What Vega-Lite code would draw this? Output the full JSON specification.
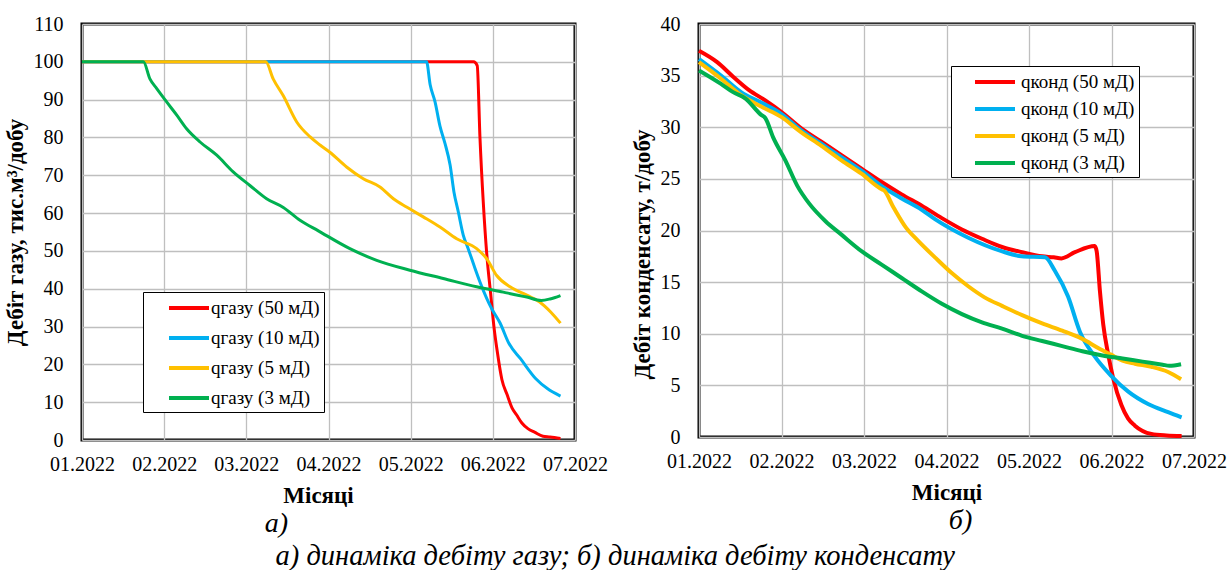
{
  "$schema": "https://vega.github.io/schema/vega-lite/v6.json",
  "padding": {"left": 2, "top": 12, "right": 0, "bottom": 0},
  "background": "white",
  "bounds": "flush",
  "spacing": 124,
  "title": {"text": "а) динаміка дебіту газу; б) динаміка дебіту конденсату", "orient": "bottom", "anchor": "middle", "font": "Times New Roman", "fontSize": 28.5, "fontStyle": "italic", "fontWeight": "normal", "color": "black", "offset": 2},
  "datasets": {
    "gas": [
      {"day": 0, "value": 100, "series": "qгазу (50 мД)"},
      {"day": 143, "value": 100, "series": "qгазу (50 мД)"},
      {"day": 144.3, "value": 99, "series": "qгазу (50 мД)"},
      {"day": 145.3, "value": 80, "series": "qгазу (50 мД)"},
      {"day": 146.5, "value": 63, "series": "qгазу (50 мД)"},
      {"day": 147.8, "value": 49, "series": "qгазу (50 мД)"},
      {"day": 149.3, "value": 38, "series": "qгазу (50 мД)"},
      {"day": 150.4, "value": 30, "series": "qгазу (50 мД)"},
      {"day": 151.7, "value": 23, "series": "qгазу (50 мД)"},
      {"day": 153.3, "value": 16, "series": "qгазу (50 мД)"},
      {"day": 155.2, "value": 12, "series": "qгазу (50 мД)"},
      {"day": 157, "value": 8.5, "series": "qгазу (50 мД)"},
      {"day": 158.7, "value": 6.6, "series": "qгазу (50 мД)"},
      {"day": 160.6, "value": 4.5, "series": "qгазу (50 мД)"},
      {"day": 162.8, "value": 3, "series": "qгазу (50 мД)"},
      {"day": 165.4, "value": 2, "series": "qгазу (50 мД)"},
      {"day": 168.3, "value": 1, "series": "qгазу (50 мД)"},
      {"day": 170.9, "value": 0.8, "series": "qгазу (50 мД)"},
      {"day": 174.7, "value": 0.4, "series": "qгазу (50 мД)"},
      {"day": 0, "value": 100, "series": "qгазу (10 мД)"},
      {"day": 125.8, "value": 100, "series": "qгазу (10 мД)"},
      {"day": 127.1, "value": 94, "series": "qгазу (10 мД)"},
      {"day": 128.9, "value": 89.4, "series": "qгазу (10 мД)"},
      {"day": 130.7, "value": 83, "series": "qгазу (10 мД)"},
      {"day": 132.5, "value": 78.5, "series": "qгазу (10 мД)"},
      {"day": 134.4, "value": 72.7, "series": "qгазу (10 мД)"},
      {"day": 135.8, "value": 65.6, "series": "qгазу (10 мД)"},
      {"day": 137.4, "value": 60.3, "series": "qгазу (10 мД)"},
      {"day": 139.2, "value": 54.2, "series": "qгазу (10 мД)"},
      {"day": 141, "value": 50.6, "series": "qгазу (10 мД)"},
      {"day": 143.1, "value": 46.2, "series": "qгазу (10 мД)"},
      {"day": 145.3, "value": 41.8, "series": "qгазу (10 мД)"},
      {"day": 147.8, "value": 37.4, "series": "qгазу (10 мД)"},
      {"day": 149.6, "value": 34.7, "series": "qгазу (10 мД)"},
      {"day": 152.6, "value": 31, "series": "qгазу (10 мД)"},
      {"day": 155.9, "value": 25.5, "series": "qгазу (10 мД)"},
      {"day": 160.1, "value": 21.5, "series": "qгазу (10 мД)"},
      {"day": 165.7, "value": 16.2, "series": "qгазу (10 мД)"},
      {"day": 169.9, "value": 13.6, "series": "qгазу (10 мД)"},
      {"day": 174.7, "value": 11.6, "series": "qгазу (10 мД)"},
      {"day": 0, "value": 100, "series": "qгазу (5 мД)"},
      {"day": 67.1, "value": 100, "series": "qгазу (5 мД)"},
      {"day": 69.8, "value": 95.5, "series": "qгазу (5 мД)"},
      {"day": 73.5, "value": 91, "series": "qгазу (5 мД)"},
      {"day": 78.4, "value": 84.1, "series": "qгазу (5 мД)"},
      {"day": 83.2, "value": 80.2, "series": "qгазу (5 мД)"},
      {"day": 86.9, "value": 78, "series": "qгазу (5 мД)"},
      {"day": 90.5, "value": 76.1, "series": "qгазу (5 мД)"},
      {"day": 96.6, "value": 72.2, "series": "qгазу (5 мД)"},
      {"day": 102.7, "value": 69.1, "series": "qгазу (5 мД)"},
      {"day": 108.8, "value": 66.9, "series": "qгазу (5 мД)"},
      {"day": 113.7, "value": 63.8, "series": "qгазу (5 мД)"},
      {"day": 118.5, "value": 61.6, "series": "qгазу (5 мД)"},
      {"day": 124.6, "value": 59, "series": "qгазу (5 мД)"},
      {"day": 130.7, "value": 56.3, "series": "qгазу (5 мД)"},
      {"day": 136.8, "value": 53.2, "series": "qгазу (5 мД)"},
      {"day": 144.1, "value": 50.6, "series": "qгазу (5 мД)"},
      {"day": 147.8, "value": 47.9, "series": "qгазу (5 мД)"},
      {"day": 151.4, "value": 43.5, "series": "qгазу (5 мД)"},
      {"day": 156.3, "value": 40.5, "series": "qгазу (5 мД)"},
      {"day": 162.4, "value": 38.3, "series": "qгазу (5 мД)"},
      {"day": 167.1, "value": 36.5, "series": "qгазу (5 мД)"},
      {"day": 171.2, "value": 33.8, "series": "qгазу (5 мД)"},
      {"day": 174.7, "value": 30.9, "series": "qгазу (5 мД)"},
      {"day": 0, "value": 100, "series": "qгазу (3 мД)"},
      {"day": 22.4, "value": 100, "series": "qгазу (3 мД)"},
      {"day": 24.8, "value": 95.5, "series": "qгазу (3 мД)"},
      {"day": 27.3, "value": 92.9, "series": "qгазу (3 мД)"},
      {"day": 30.9, "value": 89.4, "series": "qгазу (3 мД)"},
      {"day": 34.6, "value": 85.9, "series": "qгазу (3 мД)"},
      {"day": 38.2, "value": 82.3, "series": "qгазу (3 мД)"},
      {"day": 43.1, "value": 78.8, "series": "qгазу (3 мД)"},
      {"day": 49.2, "value": 75.3, "series": "qгазу (3 мД)"},
      {"day": 55.2, "value": 70.9, "series": "qгазу (3 мД)"},
      {"day": 61.3, "value": 67.3, "series": "qгазу (3 мД)"},
      {"day": 67.4, "value": 63.8, "series": "qгазу (3 мД)"},
      {"day": 73.5, "value": 61.5, "series": "qгазу (3 мД)"},
      {"day": 79.6, "value": 58.1, "series": "qгазу (3 мД)"},
      {"day": 86.3, "value": 55.3, "series": "qгазу (3 мД)"},
      {"day": 97.8, "value": 50.6, "series": "qгазу (3 мД)"},
      {"day": 107.6, "value": 47.5, "series": "qгазу (3 мД)"},
      {"day": 119.7, "value": 44.9, "series": "qгазу (3 мД)"},
      {"day": 131.9, "value": 42.7, "series": "qгазу (3 мД)"},
      {"day": 144.1, "value": 40.5, "series": "qгазу (3 мД)"},
      {"day": 153.8, "value": 39.1, "series": "qгазу (3 мД)"},
      {"day": 162.4, "value": 37.8, "series": "qгазу (3 мД)"},
      {"day": 167.7, "value": 36.9, "series": "qгазу (3 мД)"},
      {"day": 170.9, "value": 37.3, "series": "qгазу (3 мД)"},
      {"day": 174.7, "value": 38.2, "series": "qгазу (3 мД)"}
    ],
    "cond": [
      {"day": 0, "value": 37.4, "series": "qконд (50 мД)"},
      {"day": 6.6, "value": 36.3, "series": "qконд (50 мД)"},
      {"day": 12.4, "value": 34.9, "series": "qконд (50 мД)"},
      {"day": 18.2, "value": 33.6, "series": "qконд (50 мД)"},
      {"day": 24.1, "value": 32.6, "series": "qконд (50 мД)"},
      {"day": 29.9, "value": 31.5, "series": "qконд (50 мД)"},
      {"day": 37.2, "value": 29.9, "series": "qконд (50 мД)"},
      {"day": 44.5, "value": 28.6, "series": "qконд (50 мД)"},
      {"day": 51.8, "value": 27.3, "series": "qконд (50 мД)"},
      {"day": 59.1, "value": 26, "series": "qконд (50 мД)"},
      {"day": 66.4, "value": 24.7, "series": "qконд (50 мД)"},
      {"day": 73.7, "value": 23.5, "series": "qконд (50 мД)"},
      {"day": 81, "value": 22.4, "series": "qконд (50 мД)"},
      {"day": 88.3, "value": 21.2, "series": "qконд (50 мД)"},
      {"day": 95.6, "value": 20.1, "series": "qконд (50 мД)"},
      {"day": 102.9, "value": 19.2, "series": "qконд (50 мД)"},
      {"day": 110.2, "value": 18.4, "series": "qконд (50 мД)"},
      {"day": 117.5, "value": 17.9, "series": "qконд (50 мД)"},
      {"day": 124.8, "value": 17.5, "series": "qконд (50 мД)"},
      {"day": 129, "value": 17.4, "series": "qконд (50 мД)"},
      {"day": 131.8, "value": 17.3, "series": "qконд (50 мД)"},
      {"day": 136.7, "value": 17.9, "series": "qконд (50 мД)"},
      {"day": 143.9, "value": 18.5, "series": "qконд (50 мД)"},
      {"day": 144.6, "value": 18, "series": "qконд (50 мД)"},
      {"day": 145.8, "value": 14.1, "series": "qконд (50 мД)"},
      {"day": 147, "value": 10.9, "series": "qконд (50 мД)"},
      {"day": 148.8, "value": 8, "series": "qконд (50 мД)"},
      {"day": 150.6, "value": 5.7, "series": "qконд (50 мД)"},
      {"day": 153.6, "value": 3.1, "series": "qконд (50 мД)"},
      {"day": 156, "value": 1.8, "series": "qконд (50 мД)"},
      {"day": 158.5, "value": 1.1, "series": "qконд (50 мД)"},
      {"day": 164.5, "value": 0.3, "series": "qконд (50 мД)"},
      {"day": 170, "value": 0.15, "series": "qконд (50 мД)"},
      {"day": 175.5, "value": 0.1, "series": "qконд (50 мД)"},
      {"day": 0, "value": 36.6, "series": "qконд (10 мД)"},
      {"day": 8, "value": 35, "series": "qконд (10 мД)"},
      {"day": 15.3, "value": 33.4, "series": "qконд (10 мД)"},
      {"day": 22.6, "value": 32.4, "series": "qконд (10 мД)"},
      {"day": 29.9, "value": 31.3, "series": "qконд (10 мД)"},
      {"day": 37.2, "value": 29.7, "series": "qконд (10 мД)"},
      {"day": 44.5, "value": 28.4, "series": "qконд (10 мД)"},
      {"day": 51.8, "value": 27.1, "series": "qконд (10 мД)"},
      {"day": 59.1, "value": 25.8, "series": "qконд (10 мД)"},
      {"day": 66.4, "value": 24.3, "series": "qконд (10 мД)"},
      {"day": 73.7, "value": 23.1, "series": "qконд (10 мД)"},
      {"day": 81, "value": 22, "series": "qконд (10 мД)"},
      {"day": 85.8, "value": 21.1, "series": "qконд (10 мД)"},
      {"day": 97.9, "value": 19.3, "series": "qконд (10 мД)"},
      {"day": 110, "value": 18, "series": "qконд (10 мД)"},
      {"day": 117.3, "value": 17.5, "series": "qконд (10 мД)"},
      {"day": 125.8, "value": 17.4, "series": "qконд (10 мД)"},
      {"day": 129.4, "value": 16.1, "series": "qконд (10 мД)"},
      {"day": 134.2, "value": 13.6, "series": "qконд (10 мД)"},
      {"day": 138.5, "value": 10.2, "series": "qконд (10 мД)"},
      {"day": 143.9, "value": 7.8, "series": "qконд (10 мД)"},
      {"day": 149.6, "value": 6, "series": "qконд (10 мД)"},
      {"day": 156.1, "value": 4.4, "series": "qконд (10 мД)"},
      {"day": 163.3, "value": 3.2, "series": "qконд (10 мД)"},
      {"day": 170.6, "value": 2.4, "series": "qконд (10 мД)"},
      {"day": 175.5, "value": 1.9, "series": "qконд (10 мД)"},
      {"day": 0, "value": 36.3, "series": "qконд (5 мД)"},
      {"day": 8, "value": 34.7, "series": "qконд (5 мД)"},
      {"day": 15.3, "value": 33.1, "series": "qконд (5 мД)"},
      {"day": 22.6, "value": 32, "series": "qконд (5 мД)"},
      {"day": 29.9, "value": 31, "series": "qконд (5 мД)"},
      {"day": 37.2, "value": 29.5, "series": "qконд (5 мД)"},
      {"day": 44.5, "value": 28.2, "series": "qконд (5 мД)"},
      {"day": 51.8, "value": 26.8, "series": "qконд (5 мД)"},
      {"day": 59.1, "value": 25.5, "series": "qконд (5 мД)"},
      {"day": 66.4, "value": 24, "series": "qконд (5 мД)"},
      {"day": 67.2, "value": 23.9, "series": "qконд (5 мД)"},
      {"day": 70.8, "value": 22.2, "series": "qконд (5 мД)"},
      {"day": 75.2, "value": 20.3, "series": "qконд (5 мД)"},
      {"day": 79.7, "value": 19, "series": "qконд (5 мД)"},
      {"day": 85.8, "value": 17.4, "series": "qконд (5 мД)"},
      {"day": 91.8, "value": 15.9, "series": "qконд (5 мД)"},
      {"day": 97.9, "value": 14.6, "series": "qконд (5 мД)"},
      {"day": 104, "value": 13.5, "series": "qконд (5 мД)"},
      {"day": 110.2, "value": 12.7, "series": "qконд (5 мД)"},
      {"day": 117.5, "value": 11.8, "series": "qконд (5 мД)"},
      {"day": 124.8, "value": 11, "series": "qконд (5 мД)"},
      {"day": 132.1, "value": 10.3, "series": "qконд (5 мД)"},
      {"day": 139.4, "value": 9.5, "series": "qконд (5 мД)"},
      {"day": 145.3, "value": 8.6, "series": "qконд (5 мД)"},
      {"day": 149.6, "value": 8, "series": "qконд (5 мД)"},
      {"day": 154, "value": 7.4, "series": "qконд (5 мД)"},
      {"day": 158.5, "value": 7.1, "series": "qконд (5 мД)"},
      {"day": 164.5, "value": 6.8, "series": "qконд (5 мД)"},
      {"day": 170.6, "value": 6.3, "series": "qконд (5 мД)"},
      {"day": 175.3, "value": 5.6, "series": "qконд (5 мД)"},
      {"day": 0, "value": 35.5, "series": "qконд (3 мД)"},
      {"day": 8, "value": 34.2, "series": "qконд (3 мД)"},
      {"day": 12.4, "value": 33.4, "series": "qконд (3 мД)"},
      {"day": 16.8, "value": 32.8, "series": "qконд (3 мД)"},
      {"day": 22.6, "value": 31.2, "series": "qконд (3 мД)"},
      {"day": 24.1, "value": 30.9, "series": "qконд (3 мД)"},
      {"day": 27, "value": 29, "series": "qконд (3 мД)"},
      {"day": 31.4, "value": 26.8, "series": "qконд (3 мД)"},
      {"day": 35.8, "value": 24.3, "series": "qконд (3 мД)"},
      {"day": 40.1, "value": 22.6, "series": "qконд (3 мД)"},
      {"day": 46, "value": 20.9, "series": "qконд (3 мД)"},
      {"day": 51.8, "value": 19.6, "series": "qконд (3 мД)"},
      {"day": 59.1, "value": 18, "series": "qконд (3 мД)"},
      {"day": 66.4, "value": 16.7, "series": "qконд (3 мД)"},
      {"day": 73.7, "value": 15.4, "series": "qконд (3 мД)"},
      {"day": 81, "value": 14.1, "series": "qконд (3 мД)"},
      {"day": 88.3, "value": 12.9, "series": "qконд (3 мД)"},
      {"day": 95.6, "value": 11.9, "series": "qконд (3 мД)"},
      {"day": 102.9, "value": 11.1, "series": "qконд (3 мД)"},
      {"day": 110.2, "value": 10.5, "series": "qконд (3 мД)"},
      {"day": 117.5, "value": 9.8, "series": "qконд (3 мД)"},
      {"day": 124.8, "value": 9.3, "series": "qконд (3 мД)"},
      {"day": 132.1, "value": 8.8, "series": "qконд (3 мД)"},
      {"day": 139.4, "value": 8.3, "series": "qконд (3 мД)"},
      {"day": 146.7, "value": 7.9, "series": "qконд (3 мД)"},
      {"day": 154, "value": 7.6, "series": "qконд (3 мД)"},
      {"day": 161.3, "value": 7.3, "series": "qконд (3 мД)"},
      {"day": 168.6, "value": 7, "series": "qконд (3 мД)"},
      {"day": 171, "value": 6.9, "series": "qконд (3 мД)"},
      {"day": 175.3, "value": 7.05, "series": "qконд (3 мД)"}
    ]
  },
  "hconcat": [
    {
      "width": 493,
      "height": 416,
      "data": {"name": "gas"},
      "title": {"text": "а)", "orient": "bottom", "dx": -52, "offset": 3},
      "mark": {"type": "line", "strokeWidth": 3, "interpolate": "monotone"},
      "encoding": {
        "x": {"field": "day", "type": "quantitative",
          "scale": {"domain": [0, 180], "nice": false, "zero": false},
          "axis": {"values": [0, 30, 60, 90, 120, 150, 180], "labelExpr": "'0' + (datum.value / 30 + 1) + '.2022'", "title": "Місяці", "titleX": 236}},
        "y": {"field": "value", "type": "quantitative",
          "scale": {"domain": [0, 110], "nice": false},
          "axis": {"values": [0, 10, 20, 30, 40, 50, 60, 70, 80, 90, 100, 110], "title": "Дебіт газу, тис.м³/добу"}},
        "color": {"field": "series", "type": "nominal",
          "scale": {"domain": ["qгазу (50 мД)", "qгазу (10 мД)", "qгазу (5 мД)", "qгазу (3 мД)"], "range": ["#FF0000", "#00B0F0", "#FFC000", "#00B050"]},
          "legend": {"legendX": 61, "legendY": 268, "rowPadding": 8, "symbolOffset": 30, "labelOffset": 10, "labelExpr": "datum.label + '\u00a0\u00a0\u00a0\u00a0'"}}
      }
    },
    {
      "width": 495,
      "height": 413,
      "data": {"name": "cond"},
      "title": {"text": "б)", "orient": "bottom", "dx": 14, "offset": 3},
      "mark": {"type": "line", "interpolate": "monotone"},
      "encoding": {
        "x": {"field": "day", "type": "quantitative",
          "scale": {"domain": [0, 180], "nice": false, "zero": false},
          "axis": {"values": [0, 30, 60, 90, 120, 150, 180], "labelExpr": "'0' + (datum.value / 30 + 1) + '.2022'", "title": "Місяці"}},
        "y": {"field": "value", "type": "quantitative",
          "scale": {"domain": [0, 40], "nice": false},
          "axis": {"values": [0, 5, 10, 15, 20, 25, 30, 35, 40], "title": "Дебіт конденсату, т/добу", "titleY": 230}},
        "color": {"field": "series", "type": "nominal",
          "scale": {"domain": ["qконд (50 мД)", "qконд (10 мД)", "qконд (5 мД)", "qконд (3 мД)"], "range": ["#FF0000", "#00B0F0", "#FFC000", "#00B050"]},
          "legend": {"legendX": 252, "legendY": 42, "rowPadding": 5, "symbolOffset": 28, "labelOffset": 14, "labelExpr": "datum.label + '\u00a0\u00a0\u00a0'"}},
        "strokeWidth": {"field": "series", "type": "nominal",
          "scale": {"domain": ["qконд (50 мД)", "qконд (10 мД)", "qконд (5 мД)", "qконд (3 мД)"], "range": [4, 4, 2.7, 4]},
          "legend": null}
      }
    }
  ],
  "resolve": {"scale": {"color": "independent", "strokeWidth": "independent"}, "legend": {"color": "independent"}},
  "config": {
    "font": "Times New Roman",
    "view": {"stroke": "black", "strokeWidth": 3},
    "title": {"font": "Times New Roman", "fontSize": 28, "fontStyle": "italic", "fontWeight": "normal", "color": "black"},
    "axis": {
      "domain": false,
      "ticks": false,
      "grid": true,
      "gridColor": "#BFBFBF",
      "gridWidth": 1.3,
      "labelFont": "Times New Roman",
      "labelFontSize": 20,
      "labelColor": "black",
      "titleFont": "Times New Roman",
      "titleFontSize": 23,
      "titleFontWeight": "bold",
      "titleColor": "black"
    },
    "axisX": {"labelPadding": 14, "titlePadding": 10, "labelFlush": false, "labelOverlap": false},
    "axisY": {"labelPadding": 19, "titlePadding": 6},
    "legend": {
      "orient": "none",
      "title": null,
      "strokeColor": "black",
      "fillColor": "white",
      "padding": 4,
      "symbolType": "M-2,0L2,0",
      "symbolSize": 400,
      "symbolStrokeWidth": 4,
      "labelFont": "Times New Roman",
      "labelFontSize": 19,
      "labelColor": "black"
    }
  }
}
